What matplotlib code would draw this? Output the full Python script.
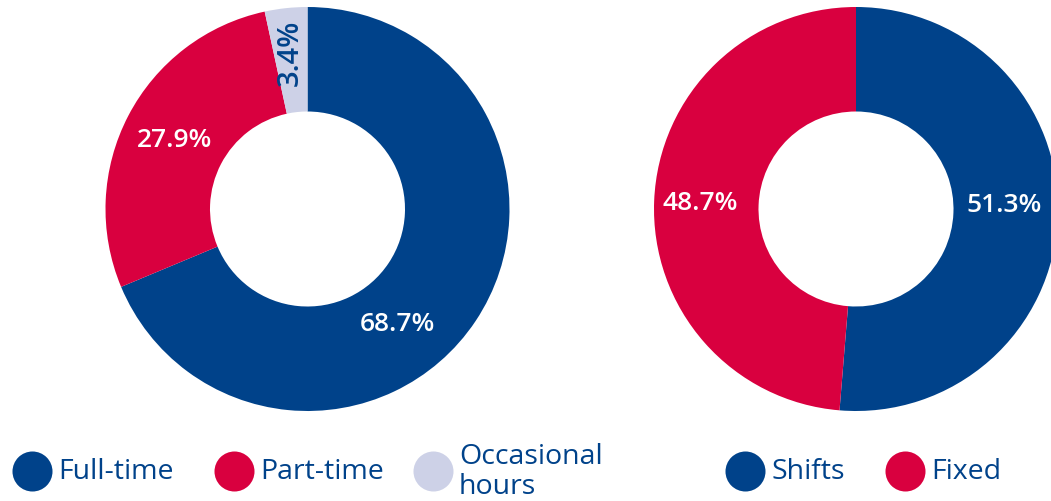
import matplotlib.pyplot as plt
import numpy as np

plt.rcParams['font.family'] = ['Open Sans', 'DejaVu Sans']

NAVY = '#00428a'
RED = '#d9003f'
LILAC = '#cdd1e7'

# contract type split (left donut)
contract_labels = ['Full-time', 'Part-time', 'Occasional\nhours']
contract_share = [68.7, 27.9, 3.4]
contract_colors = [NAVY, RED, LILAC]

# working schedule split (right donut)
schedule_labels = ['Shifts', 'Fixed']
schedule_share = [51.3, 48.7]
schedule_colors = [NAVY, RED]

R_OUT = 202
R_IN = 97.5

fig = plt.figure(figsize=(10.51, 5.02), dpi=100)
ax = fig.add_axes([0, 0, 1, 1])


def donut(values, colors, center, styles):
    wedges, texts, pcts = ax.pie(values, colors=colors, center=center, radius=R_OUT,
                                 startangle=90, counterclock=False,
                                 wedgeprops=dict(width=R_OUT - R_IN, linewidth=0),
                                 autopct='%.1f%%', pctdistance=0.74,
                                 textprops=dict(fontsize=19, fontweight='semibold'))
    # style: (colour, rotation, angle shift in deg, radial distance, font size)
    for w, t, (col, rot, sh, dist, fs) in zip(wedges, pcts, styles):
        t.set_color(col)
        t.set_rotation(rot)
        t.set_fontsize(fs)
        t.set_ha('center')
        t.set_va('center')
        ang = np.deg2rad((w.theta1 + w.theta2) / 2 + sh)
        d = dist * R_OUT
        t.set_position((center[0] + d * np.cos(ang), center[1] + d * np.sin(ang)))


donut(contract_share, contract_colors, (307.5, 292),
      [('white', 0, -18, 0.72, 19), ('white', 0, 0, 0.74, 19), (NAVY, 90, 0, 0.785, 21)])
donut(schedule_share, schedule_colors, (856, 292),
      [('white', 0, 4, 0.735, 19), ('white', 0, 0, 0.77, 19)])


def legend_row(labels, colors, xs, y):
    for lab, col, x in zip(labels, colors, xs):
        ax.scatter([x], [y], s=830, color=col, linewidths=0, zorder=3, clip_on=False)
        ax.text(x + 26, y, lab, fontsize=20.5, color=NAVY, ha='left', va='center',
                linespacing=1.05)


legend_row(contract_labels, contract_colors, [32, 234, 433], 30)
legend_row(schedule_labels, schedule_colors, [745, 905], 30)

ax.set_xlim(0, 1051)
ax.set_ylim(0, 502)
ax.set_aspect('equal')
ax.axis('off')

fig.savefig('out.png', dpi=100)
